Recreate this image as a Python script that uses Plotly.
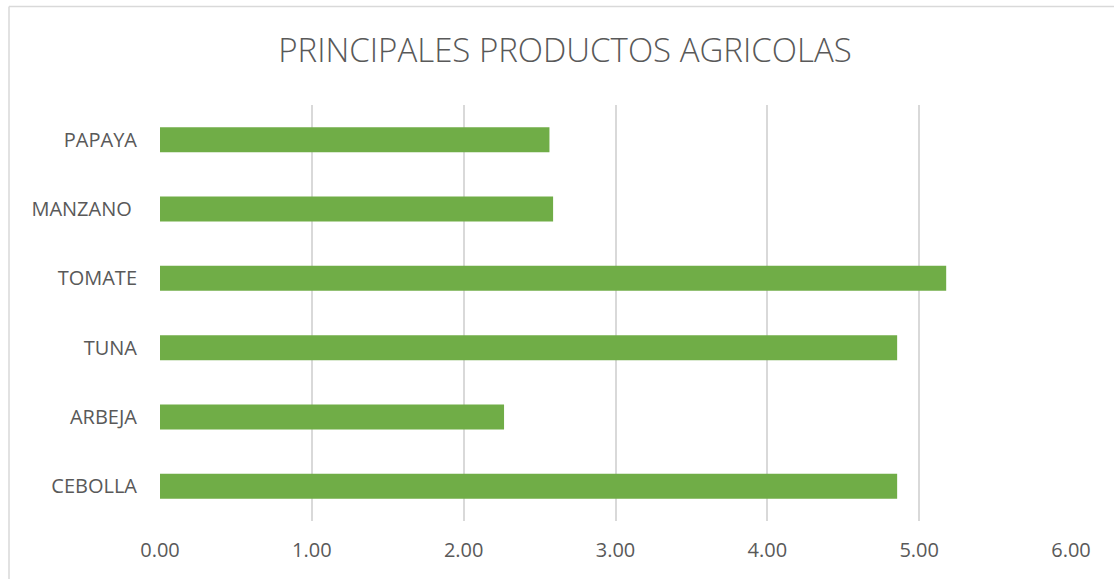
import plotly.graph_objects as go

categories = ["CEBOLLA", "ARBEJA", "TUNA", "TOMATE", "MANZANO ", "PAPAYA"]
values = [4.855, 2.266, 4.855, 5.178, 2.589, 2.565]
tick_vals = [0, 1, 2, 3, 4, 5, 6]
tick_text = ["0.00", "1.00", "2.00", "3.00", "4.00", "5.00", "6.00"]
title_text = "PRINCIPALES PRODUCTOS AGRICOLAS"

fig = go.Figure(go.Bar(
    y=categories, x=values, orientation="h",
    marker=dict(color="#70ad47", line=dict(width=0)),
    width=0.36,
))

W, H = 1114, 579
ml, mr, mt, mb = 160, 43, 105, 58
pw, ph = W - ml - mr, H - mt - mb

fig.update_layout(
    width=W, height=H,
    margin=dict(l=ml, r=mr, t=mt, b=mb),
    paper_bgcolor="white", plot_bgcolor="white",
    title=dict(text=title_text, x=(565 - ml) / pw, xref="paper", xanchor="center",
               y=1 - 50 / H, yanchor="middle",
               font=dict(family="Open Sans", size=33, color="#595959", weight=300)),
    font=dict(family="Open Sans", color="#595959", size=16),
    showlegend=False,
    xaxis=dict(range=[0, 6], tickvals=tick_vals, ticktext=tick_text,
               showgrid=True, gridcolor="#d9d9d9", gridwidth=1.5,
               zeroline=False, showline=False, ticks="",
               tickfont=dict(size=20, color="#595959"), ticklabelstandoff=15),
    yaxis=dict(showgrid=False, zeroline=False, showline=False, ticks="",
               tickfont=dict(size=20, color="#595959"), ticklabelstandoff=22,
               range=[-0.5, 5.5]),
    shapes=[
        dict(type="line", xref="paper", yref="paper",
             x0=(9 - ml) / pw, x1=(1114 - ml) / pw,
             y0=(H - mb - 6.5) / ph, y1=(H - mb - 6.5) / ph,
             line=dict(color="#d9d9d9", width=1.5)),
        dict(type="line", xref="paper", yref="paper",
             x0=(9 - ml) / pw, x1=(9 - ml) / pw,
             y0=(H - mb - 6.5) / ph, y1=(H - mb - 579) / ph,
             line=dict(color="#d9d9d9", width=1.5)),
    ],
)

fig.write_html("out.html", config={"displayModeBar": False},
               post_script="document.body.style.margin='0';document.body.style.overflow='hidden';")
